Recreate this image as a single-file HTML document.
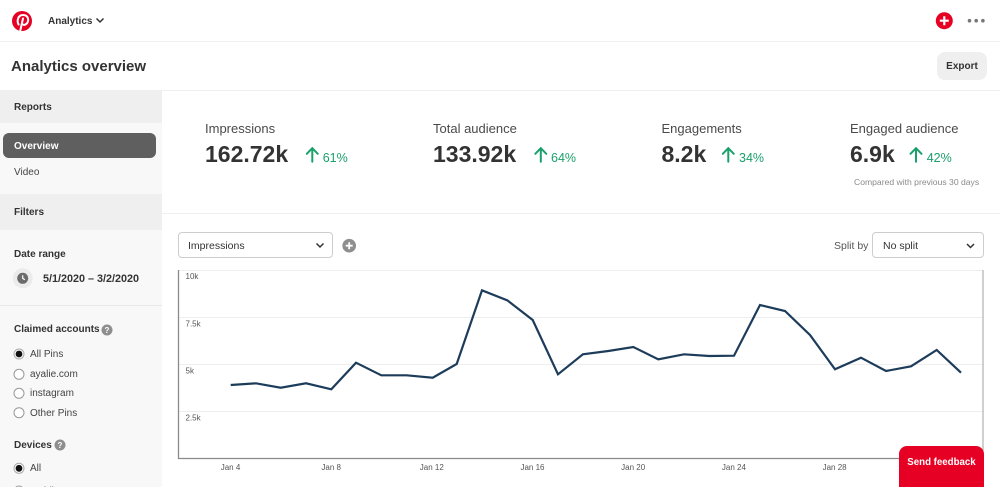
<!DOCTYPE html>
<html><head><meta charset="utf-8">
<style>
*{margin:0;padding:0;box-sizing:border-box}
html,body{width:1000px;height:487px;overflow:hidden;background:#fff;font-family:"Liberation Sans",Arial,sans-serif;color:#333}
#root{position:relative;width:1000px;height:487px;overflow:hidden}
.a{position:absolute;white-space:nowrap}
.t{position:absolute;white-space:nowrap;line-height:20px}
.b{font-weight:bold}
.sb{font-size:10px;font-weight:bold;color:#333;left:14px}
.sr{font-size:10px;color:#444;left:30px}
.ml{font-size:13px;color:#4a4a4a}
.mv{font-size:23px;font-weight:bold;color:#333;line-height:30px}
.mp{font-size:12.5px;color:#1aa06a}
</style></head><body>
<div id="root">

<!-- header -->
<div class="a" style="left:0;top:41px;width:1000px;height:1px;background:#f0f0f0"></div>
<svg class="a" style="left:0;top:0" width="60" height="42">
  <circle cx="22" cy="21" r="10" fill="#e60023"/>
  <path d="M20.3 30.5 L23 18.5" stroke="#fff" stroke-width="2" fill="none" stroke-linecap="round"/>
  <path d="M18.6 24.5 C16.5 21 18 15 23 15 C28 15 29 19.5 27.5 22.5 C26.2 25 23.5 25.5 22.3 24" stroke="#fff" stroke-width="2" fill="none" stroke-linecap="round"/>
</svg>
<div class="t b" style="left:48px;top:12px;font-size:10px;color:#333">Analytics</div>
<svg class="a" style="left:95px;top:16px" width="10" height="10"><path d="M1.5 2.5 L5 6 L8.5 2.5" stroke="#333" stroke-width="1.5" fill="none"/></svg>
<svg class="a" style="left:930px;top:8px" width="70" height="26">
  <circle cx="14.3" cy="12.7" r="8.5" fill="#e60023"/>
  <path d="M14.3 8.2 V17.2 M9.8 12.7 H18.8" stroke="#fff" stroke-width="2.2"/>
  <circle cx="39.5" cy="12.7" r="1.8" fill="#767676"/>
  <circle cx="46.2" cy="12.7" r="1.8" fill="#767676"/>
  <circle cx="52.9" cy="12.7" r="1.8" fill="#767676"/>
</svg>

<!-- title row -->
<div class="t b" style="left:11px;top:57px;font-size:15px;color:#333">Analytics overview</div>
<div class="a b" style="left:937px;top:52px;width:50px;height:28px;background:#efefef;border-radius:8px;font-size:10px;display:flex;align-items:center;justify-content:center;color:#333">Export</div>
<div class="a" style="left:0;top:90px;width:1000px;height:1px;background:#efefef"></div>

<!-- sidebar -->
<div class="a" style="left:0;top:91px;width:162px;height:396px;background:#f8f8f8"></div>
<div class="a" style="left:0;top:91px;width:162px;height:32px;background:#efefef"></div>
<div class="t sb" style="top:97.5px">Reports</div>
<div class="a" style="left:3px;top:133px;width:153px;height:25px;background:#5f5f5f;border-radius:6px"></div>
<div class="t sb" style="top:137px;color:#fff">Overview</div>
<div class="t" style="left:14px;top:162.5px;font-size:10px;color:#444">Video</div>
<div class="a" style="left:0;top:194px;width:162px;height:36px;background:#efefef"></div>
<div class="t sb" style="top:203px">Filters</div>
<div class="t sb" style="top:245px">Date range</div>
<svg class="a" style="left:10px;top:266px" width="26" height="26">
  <circle cx="12.7" cy="12.3" r="10" fill="#ebebeb"/>
  <circle cx="12.7" cy="12.3" r="5.5" fill="#6b6b6b"/>
  <path d="M12.7 9.2 V12.3 L14.8 13.8" stroke="#fff" stroke-width="1.2" fill="none"/>
</svg>
<div class="t b" style="left:43px;top:269px;font-size:10.8px;color:#333">5/1/2020 – 3/2/2020</div>
<div class="a" style="left:0;top:305px;width:162px;height:1px;background:#e8e8e8"></div>
<div class="t sb" style="top:320px">Claimed accounts</div>
<svg class="a" style="left:101px;top:323.5px" width="12" height="12"><circle cx="6" cy="6" r="5.5" fill="#8e8e8e"/><text x="6" y="9" font-size="8" font-weight="bold" fill="#fff" text-anchor="middle" font-family="Liberation Sans, sans-serif">?</text></svg>

<svg class="a" style="left:0;top:340px" width="30" height="147">
  <circle cx="19" cy="14" r="5" fill="#fff" stroke="#aaa" stroke-width="1"/>
  <circle cx="19" cy="14" r="3.4" fill="#111"/>
  <circle cx="19" cy="34.3" r="5" fill="#fff" stroke="#999" stroke-width="1"/>
  <circle cx="19" cy="53.3" r="5" fill="#fff" stroke="#999" stroke-width="1"/>
  <circle cx="19" cy="72.7" r="5" fill="#fff" stroke="#999" stroke-width="1"/>
  <circle cx="19" cy="128.3" r="5" fill="#fff" stroke="#aaa" stroke-width="1"/>
  <circle cx="19" cy="128.3" r="3.4" fill="#111"/>
  <circle cx="19" cy="151" r="5" fill="#fff" stroke="#999" stroke-width="1"/>
</svg>
<div class="t sr" style="top:345px">All Pins</div>
<div class="t sr" style="top:365px">ayalie.com</div>
<div class="t sr" style="top:384px">instagram</div>
<div class="t sr" style="top:403.5px">Other Pins</div>
<div class="t sb" style="top:435.5px">Devices</div>
<svg class="a" style="left:54px;top:439px" width="12" height="12"><circle cx="6" cy="6" r="5.5" fill="#8e8e8e"/><text x="6" y="9" font-size="8" font-weight="bold" fill="#fff" text-anchor="middle" font-family="Liberation Sans, sans-serif">?</text></svg>
<div class="t sr" style="top:459px">All</div>
<div class="t sr" style="top:482px">mobile</div>

<!-- metrics -->
<div class="t ml" style="left:205px;top:119.3px">Impressions</div>
<div class="a mv" style="left:205px;top:139px">162.72k</div>
<div class="t mp" style="left:322.7px;top:147.8px">61%</div>

<div class="t ml" style="left:433px;top:119.3px">Total audience</div>
<div class="a mv" style="left:433px;top:139px">133.92k</div>
<div class="t mp" style="left:551px;top:147.8px">64%</div>

<div class="t ml" style="left:661.5px;top:119.3px">Engagements</div>
<div class="a mv" style="left:661.5px;top:139px">8.2k</div>
<div class="t mp" style="left:739px;top:147.8px">34%</div>

<div class="t ml" style="left:850px;top:119.3px">Engaged audience</div>
<div class="a mv" style="left:850px;top:139px">6.9k</div>
<div class="t mp" style="left:926.7px;top:147.8px">42%</div>

<div class="t" style="left:854px;top:172px;font-size:8.6px;color:#8a8a8a">Compared with previous 30 days</div>

<svg class="a" style="left:0;top:0" width="1000" height="200">
  <g stroke="#1aa06a" stroke-width="2" fill="none" stroke-linecap="round">
    <path d="M312.3 161.7 V148.5 M306.8 153.8 L312.3 148.2 L317.8 153.8"/>
    <path d="M540.8 161.7 V148.5 M535.3 153.8 L540.8 148.2 L546.3 153.8"/>
    <path d="M728.3 161.7 V148.5 M722.8 153.8 L728.3 148.2 L733.8 153.8"/>
    <path d="M916 161.7 V148.5 M910.5 153.8 L916 148.2 L921.5 153.8"/>
  </g>
</svg>
<div class="a" style="left:162px;top:213px;width:838px;height:1px;background:#efefef"></div>

<!-- chart controls -->
<div class="a" style="left:178px;top:232px;width:155px;height:26px;border:1px solid #cdcdcd;border-radius:4px;background:#fff"></div>
<div class="t" style="left:188px;top:235.5px;font-size:10.5px;color:#333">Impressions</div>
<svg class="a" style="left:314px;top:240px" width="12" height="10"><path d="M2.5 3.5 L6 7 L9.5 3.5" stroke="#333" stroke-width="1.5" fill="none"/></svg>
<svg class="a" style="left:340px;top:237px" width="18" height="18"><circle cx="9.2" cy="8.7" r="6.8" fill="#8e8e8e"/><path d="M9.2 5.2 V12.2 M5.7 8.7 H12.7" stroke="#fff" stroke-width="1.8"/></svg>

<div class="t" style="left:834px;top:236px;font-size:10.5px;color:#555">Split by</div>
<div class="a" style="left:872px;top:232px;width:112px;height:26px;border:1px solid #cdcdcd;border-radius:4px;background:#fff"></div>
<div class="t" style="left:883px;top:236px;font-size:10.5px;color:#333">No split</div>
<svg class="a" style="left:965px;top:241px" width="12" height="10"><path d="M2 3 L5.5 6.5 L9 3" stroke="#333" stroke-width="1.5" fill="none"/></svg>

<!-- chart -->
<svg class="a" style="left:0;top:0" width="1000" height="487">
  <g stroke="#eeeeee" stroke-width="1">
    <line x1="179" y1="270.5" x2="983" y2="270.5"/>
    <line x1="179" y1="317.5" x2="983" y2="317.5"/>
    <line x1="179" y1="364.5" x2="983" y2="364.5"/>
    <line x1="179" y1="411.5" x2="983" y2="411.5"/>
  </g>
  <line x1="178.5" y1="270" x2="178.5" y2="459" stroke="#8a8a8a" stroke-width="1.3"/>
  <line x1="983" y1="270" x2="983" y2="459" stroke="#a0a0a0" stroke-width="1"/>
  <line x1="178" y1="458.5" x2="983.5" y2="458.5" stroke="#8a8a8a" stroke-width="1.3"/>
  <g font-family="Liberation Sans, sans-serif" font-size="8" fill="#555">
    <text x="185.5" y="279">10k</text>
    <text x="185.5" y="326.5">7.5k</text>
    <text x="185.5" y="373.5">5k</text>
    <text x="185.5" y="420.5">2.5k</text>
  </g>
  <g font-family="Liberation Sans, sans-serif" font-size="8" fill="#555" text-anchor="middle">
    <text x="230.5" y="470">Jan 4</text>
    <text x="331.2" y="470">Jan 8</text>
    <text x="431.8" y="470">Jan 12</text>
    <text x="532.5" y="470">Jan 16</text>
    <text x="633.2" y="470">Jan 20</text>
    <text x="733.9" y="470">Jan 24</text>
    <text x="834.6" y="470">Jan 28</text>
  </g>
  <polyline fill="none" stroke="#1d3c5a" stroke-width="2.2" stroke-linejoin="miter" stroke-miterlimit="3"
    points="230.7,385 256,383.3 280.7,387.7 306,383.3 331.3,389.3 356,362.7 381.3,375.3 406.7,375.3 432.7,377.7 456.7,364 482,290.3 507.3,300.3 532.7,320 558,374.3 582.9,354.3 608.3,351 633.3,347 658.3,359.3 684,354.3 709.3,356 734,355.7 760,305 785,311 810,335 835,369.3 861,357.7 886,371 911,366.3 936.7,350 961,372.7"/>
</svg>

<!-- send feedback -->
<div class="a b" style="left:899px;top:446px;width:85px;height:41px;background:#e60023;border-radius:8px 8px 0 0;color:#fff;font-size:9.7px;text-align:center;line-height:33px">Send feedback</div>

</div>
</body></html>
